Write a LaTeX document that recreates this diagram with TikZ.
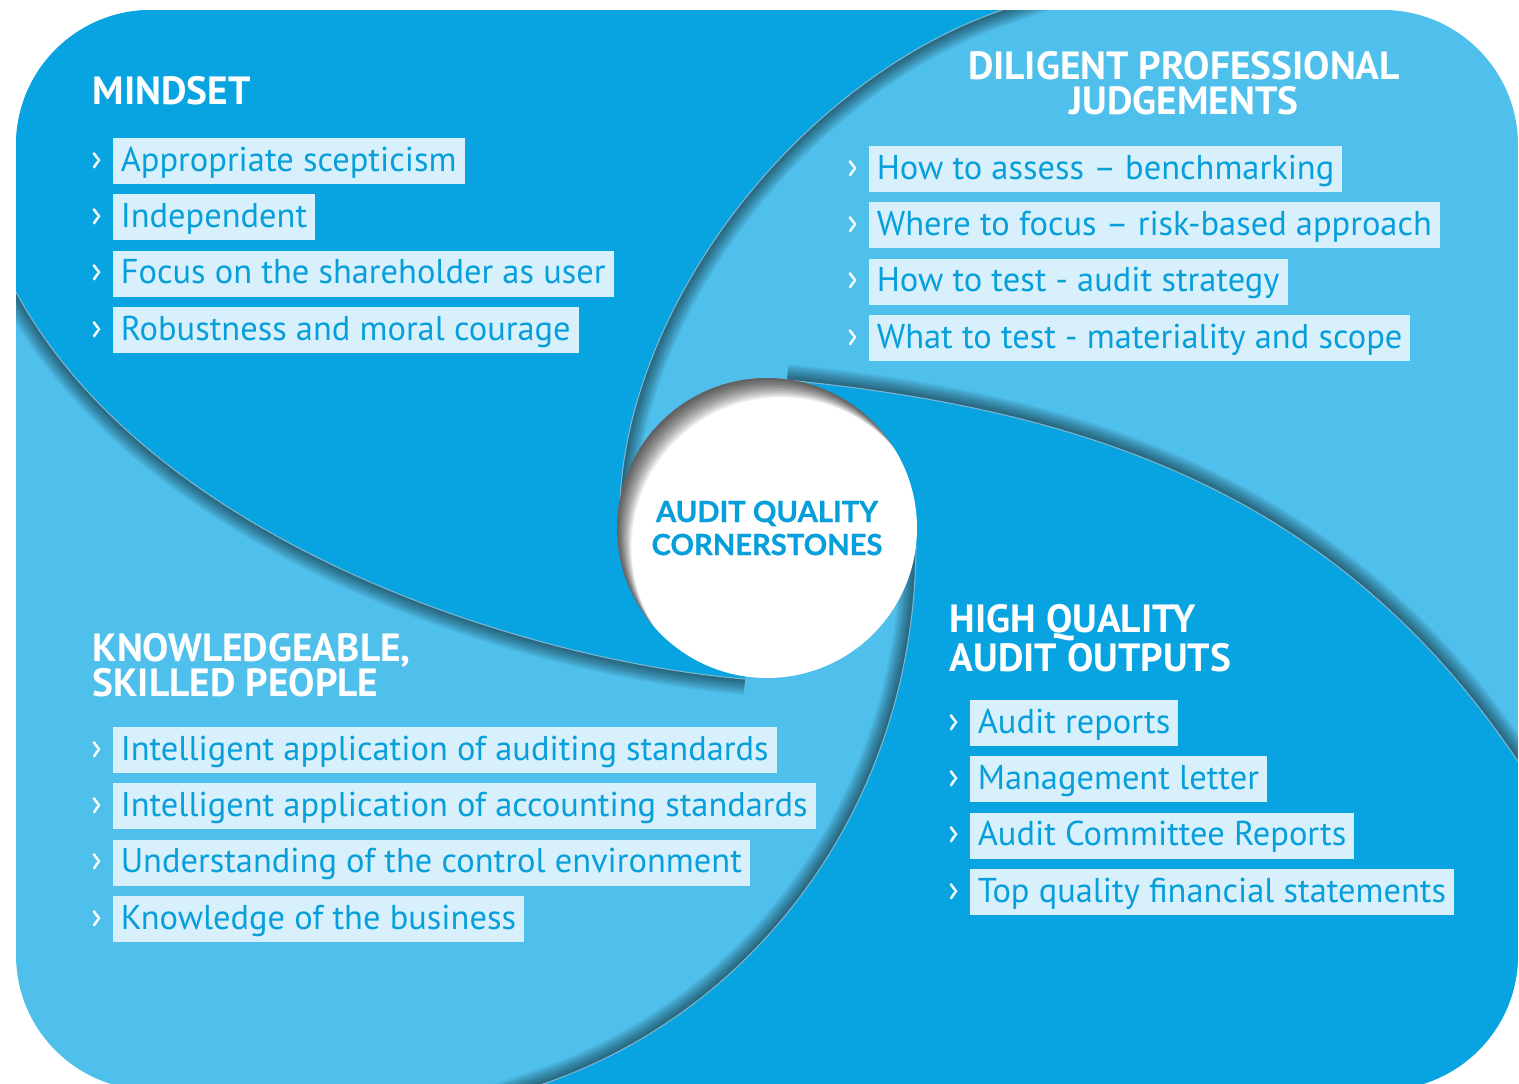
\documentclass[tikz,border=0pt]{standalone}
\usepackage{fontspec}
\setmainfont{PT Sans}
\newfontfamily\hubface{Lato}[BoldFeatures={FakeBold=0.8}]
\usepackage{tikz}
\usetikzlibrary{positioning, calc}

\definecolor{bladeblue}{RGB}{7,164,225}
\definecolor{paleblue}{RGB}{79,191,235}
\definecolor{boxblue}{RGB}{215,240,251}
\definecolor{inkblue}{RGB}{7,159,219}
\definecolor{edgeblue}{RGB}{125,182,208}

\newcommand{\headfont}{\fontsize{11.2pt}{9.9pt}\selectfont\bfseries\lineskiplimit=-6pt\relax}

\tikzset{
  blade/.style={fill=bladeblue},
  bladeedge/.style={draw=edgeblue, line width=0.3pt},
  shadowband/.style={draw=black, opacity=0.035},
  heading/.style={text=white, inner sep=0pt, font=\headfont},
  point/.style={fill=boxblue, text=inkblue, inner xsep=2.3pt, inner ysep=0pt,
    text height=9.4pt, text depth=3.7pt,
    font=\fontsize{9.8pt}{12pt}\selectfont},
  chevron/.style={text=white, inner sep=0pt,
    font=\fontsize{10.5pt}{12pt}\selectfont},
  hub/.style={circle, fill=white, minimum size=3cm, inner sep=0pt,
    text=inkblue, align=center,
    font=\hubface\bfseries\fontsize{8.3pt}{9.4pt}\selectfont}
}

% the four blade edges
\def\edgeA{(-10,244) -- (16,292) .. controls (150,540) and (520,660) .. (745,679)}
\def\edgeB{(620,500) .. controls (630,300) and (800,80) .. (1002,10) -- (1045,-5)}
\def\edgeC{(787,380) .. controls (1087,410) and (1339,493) .. (1519,763) -- (1545,802)}
\def\edgeD{(916,545) .. controls (915,800) and (760,1010) .. (543,1084) -- (500,1099)}

\begin{document}
\begin{tikzpicture}[x=0.1mm, y=-0.1mm]
  \useasboundingbox (0,0) rectangle (1519,1084);

  % panel, shadows, then the two dark blades on top
  \begin{scope}
    \clip[rounded corners=1.35cm] (16,10) rectangle (1518,1090);
    \fill[paleblue] (0,0) rectangle (1519,1100);
    \foreach \w in {1,...,16} {
      \draw[shadowband, line width=\w*0.02cm] \edgeA;
      \draw[shadowband, line width=\w*0.02cm] \edgeB;
      \draw[shadowband, line width=\w*0.02cm] \edgeC;
      \draw[shadowband, line width=\w*0.02cm] \edgeD;
    }
    \path[blade] (-10,244) -- (16,292) .. controls (150,540) and (520,660) .. (745,679)
      -- (767,528) -- (620,500) .. controls (630,300) and (800,80) .. (1002,10)
      -- (1045,-5) -- (1045,-40) -- (-10,-40) -- cycle;
    \path[blade] (787,380) .. controls (1087,410) and (1339,493) .. (1519,763)
      -- (1545,802) -- (1560,802) -- (1560,1120) -- (500,1120) -- (500,1099)
      -- (543,1084) .. controls (760,1010) and (915,800) .. (916,545)
      -- (767,528) -- cycle;
    \draw[bladeedge] \edgeA;
    \draw[bladeedge] \edgeB;
    \draw[bladeedge] \edgeC;
    \draw[bladeedge] \edgeD;
  \end{scope}

  % centre
  \node[hub] (core) at (767,528) {AUDIT QUALITY\\CORNERSTONES};
  \begin{scope}
    \clip (core.center) circle[radius=1.5cm];
    \foreach \s in {2,4,...,24}
      \fill[black, opacity=0.075, even odd rule]
        ($(core.center)+(-200,-200)$) rectangle ($(core.center)+(200,200)$)
        ($(core.center)+(0.6*\s,0.8*\s)$) circle[radius=1.5cm];
  \end{scope}

  % headings
  \node[heading, anchor=base west] (mind) at (92,104) {MINDSET};
  \node[heading, anchor=north, align=center] (dili) at (1184,51) {DILIGENT PROFESSIONAL\\JUDGEMENTS};
  \node[heading, anchor=north west, align=left] (outp) at (949,604) {HIGH QUALITY\\[1.2pt]AUDIT OUTPUTS};
  \node[heading, anchor=north west, align=left] (know) at (92,633) {KNOWLEDGEABLE,\\SKILLED PEOPLE};

  % mindset
  \node[point, anchor=base west] (m1) at (112,171) {Appropriate scepticism};
  \node[point, below right=0.9mm and 0mm of m1.south west] (m2) {Independent};
  \node[point, below right=0.9mm and 0mm of m2.south west] (m3) {Focus on the shareholder as user};
  \node[point, below right=0.9mm and 0mm of m3.south west] (m4) {Robustness and moral courage};
  \node[chevron, left=2.6pt of m1] (cm1) {›};
  \node[chevron, left=2.6pt of m2] (cm2) {›};
  \node[chevron, left=2.6pt of m3] (cm3) {›};
  \node[chevron, left=2.6pt of m4] (cm4) {›};

  % judgements
  \node[point, anchor=base west] (d1) at (868,179) {How to assess -- benchmarking};
  \node[point, below right=0.9mm and 0mm of d1.south west] (d2) {Where to focus -- risk-based approach};
  \node[point, below right=0.9mm and 0mm of d2.south west] (d3) {How to test - audit strategy};
  \node[point, below right=0.9mm and 0mm of d3.south west] (d4) {What to test - materiality and scope};
  \node[chevron, left=2.6pt of d1] (cd1) {›};
  \node[chevron, left=2.6pt of d2] (cd2) {›};
  \node[chevron, left=2.6pt of d3] (cd3) {›};
  \node[chevron, left=2.6pt of d4] (cd4) {›};

  % outputs
  \node[point, anchor=base west] (q1) at (969,733) {Audit reports};
  \node[point, below right=0.9mm and 0mm of q1.south west] (q2) {Management letter};
  \node[point, below right=0.9mm and 0mm of q2.south west] (q3) {Audit Committee Reports};
  \node[point, below right=0.9mm and 0mm of q3.south west] (q4) {Top quality financial statements};
  \node[chevron, left=2.6pt of q1] (cq1) {›};
  \node[chevron, left=2.6pt of q2] (cq2) {›};
  \node[chevron, left=2.6pt of q3] (cq3) {›};
  \node[chevron, left=2.6pt of q4] (cq4) {›};

  % people
  \node[point, anchor=base west] (k1) at (112,760) {Intelligent application of auditing standards};
  \node[point, below right=0.9mm and 0mm of k1.south west] (k2) {Intelligent application of accounting standards};
  \node[point, below right=0.9mm and 0mm of k2.south west] (k3) {Understanding of the control environment};
  \node[point, below right=0.9mm and 0mm of k3.south west] (k4) {Knowledge of the business};
  \node[chevron, left=2.6pt of k1] (ck1) {›};
  \node[chevron, left=2.6pt of k2] (ck2) {›};
  \node[chevron, left=2.6pt of k3] (ck3) {›};
  \node[chevron, left=2.6pt of k4] (ck4) {›};
\end{tikzpicture}
\end{document}
